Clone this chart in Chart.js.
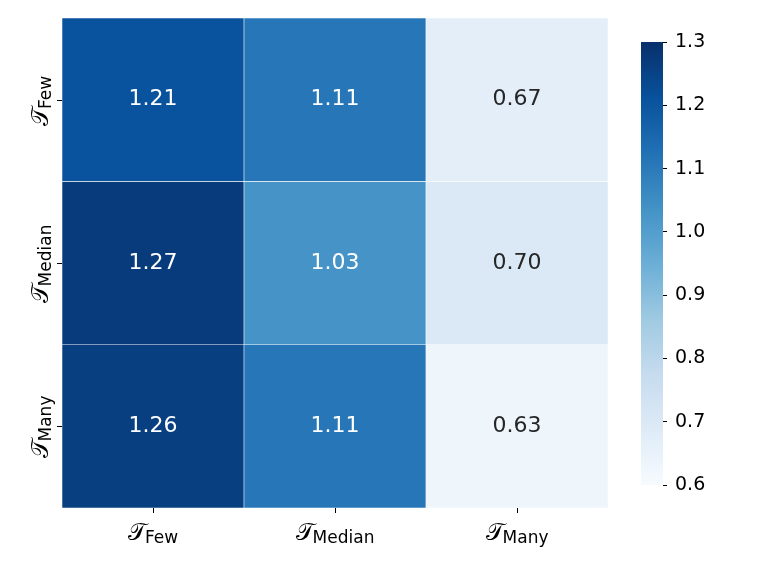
<!DOCTYPE html>
<html>
<head>
<meta charset="utf-8">
<script src="https://cdn.jsdelivr.net/npm/chart.js@4.4.1/dist/chart.umd.min.js"></script>
<style>
  html, body { margin: 0; padding: 0; background: #fff; }
  #wrap { position: relative; width: 761px; height: 571px; }
  #heat { position: absolute; left: 0; top: 0; }
  #cbar { position: absolute; left: 620px; top: 0; }
</style>
</head>
<body>
<div id="wrap">
  <canvas id="heat" width="620" height="571"></canvas>
  <canvas id="cbar" width="141" height="571"></canvas>
</div>
<script>
// categories (columns and rows share the same names)
const colNames = ["Few", "Median", "Many"];
const rowNames = ["Few", "Median", "Many"];

// cell values, one array per row (top to bottom)
const rowFew = [1.21, 1.11, 0.67];
const rowMedian = [1.27, 1.03, 0.70];
const rowMany = [1.26, 1.11, 0.63];
const rows = [rowFew, rowMedian, rowMany];

// colour bar range and ticks
const vmin = 0.6, vmax = 1.3;
const cbarTicks = [0.6, 0.7, 0.8, 0.9, 1.0, 1.1, 1.2, 1.3];

// matplotlib "Blues"
const blues = ["#f7fbff", "#deebf7", "#c6dbef", "#9ecae1", "#6baed6",
               "#4292c6", "#2171b5", "#08519c", "#08306b"];

function hex2rgb(h) {
    return [parseInt(h.substr(1, 2), 16), parseInt(h.substr(3, 2), 16), parseInt(h.substr(5, 2), 16)];
}

function bluesColor(v) {
    let t = (v - vmin) / (vmax - vmin);
    t = Math.max(0, Math.min(1, t));
    let p = t * (blues.length - 1);
    let i = Math.min(Math.floor(p), blues.length - 2);
    let f = p - i;
    let a = hex2rgb(blues[i]), b = hex2rgb(blues[i + 1]);
    let c = a.map((x, k) => Math.round(x + (b[k] - x) * f));
    return "rgb(" + c.join(",") + ")";
}

function lum(v) {
    let c = bluesColor(v).match(/\d+/g).map(Number).map(x => {
        x = x / 255;
        return x <= 0.03928 ? x / 12.92 : Math.pow((x + 0.055) / 1.055, 2.4);
    });
    return 0.2126 * c[0] + 0.7152 * c[1] + 0.0722 * c[2];
}

const FONT = "'DejaVu Sans', sans-serif";
const SCRIPT_T = "\u{1D4AF}";

// draws T with a subscript, centred at 0 along x, baseline at 0
function drawLabel(ctx, sub) {
    ctx.font = "24px " + FONT;
    let wT = ctx.measureText(SCRIPT_T).width;
    ctx.font = "17px " + FONT;
    let wS = ctx.measureText(sub).width;
    let x0 = -(wT + wS) / 2;
    ctx.fillStyle = "#000";
    ctx.textAlign = "left";
    ctx.textBaseline = "alphabetic";
    ctx.font = "24px " + FONT;
    ctx.fillText(SCRIPT_T, x0, 0);
    ctx.font = "17px " + FONT;
    ctx.fillText(sub, x0 + wT - 1, 3);
}

const heatPlugin = {
    id: "heatText",
    afterDatasetsDraw(chart) {
        const ctx = chart.ctx;
        ctx.save();
        ctx.font = "22px " + FONT;
        ctx.textAlign = "center";
        ctx.textBaseline = "middle";
        chart.data.datasets.forEach((ds, di) => {
            chart.getDatasetMeta(di).data.forEach((bar, i) => {
                const p = bar.getProps(["x", "y", "base"], true);
                const v = ds.values[i];
                ctx.fillStyle = lum(v) > 0.408 ? "#262626" : "#ffffff";
                ctx.fillText(v.toFixed(2), p.x, (p.y + p.base) / 2);
            });
        });
        ctx.restore();
    },
    afterDraw(chart) {
        const ctx = chart.ctx;
        const xs = chart.scales.x, ys = chart.scales.y;
        const area = chart.chartArea;
        ctx.save();
        ctx.strokeStyle = "#000";
        ctx.lineWidth = 1;
        colNames.forEach((name, i) => {
            const px = Math.round(xs.getPixelForValue(i)) + 0.5;
            ctx.beginPath();
            ctx.moveTo(px, area.bottom);
            ctx.lineTo(px, area.bottom + 5);
            ctx.stroke();
            ctx.save();
            ctx.translate(px, area.bottom + 32);
            drawLabel(ctx, name);
            ctx.restore();
        });
        rowNames.forEach((name, i) => {
            const py = Math.round(ys.getPixelForValue(i + 0.5)) + 0.5;
            ctx.beginPath();
            ctx.moveTo(area.left - 5, py);
            ctx.lineTo(area.left, py);
            ctx.stroke();
            ctx.save();
            ctx.translate(area.left - 14, py);
            ctx.rotate(-Math.PI / 2);
            drawLabel(ctx, name);
            ctx.restore();
        });
        ctx.restore();
    }
};

const heatData = {
    labels: colNames,
    datasets: rows.map((vals, r) => ({
        label: rowNames[r],
        data: vals.map(() => 1),
        values: vals,
        backgroundColor: vals.map(bluesColor),
        borderColor: "#ffffff",
        borderWidth: 0.6,
        borderSkipped: false,
        barPercentage: 1,
        categoryPercentage: 1
    }))
};

new Chart(document.getElementById("heat"), {
    type: "bar",
    data: heatData,
    options: {
        responsive: false,
        animation: false,
        events: [],
        layout: { padding: { left: 62, top: 18, right: 12, bottom: 63 } },
        plugins: { legend: { display: false }, tooltip: { enabled: false } },
        scales: {
            x: { display: false, stacked: true },
            y: { display: false, stacked: true, reverse: true, min: 0, max: 3 }
        }
    },
    plugins: [heatPlugin]
});

// colour bar
new Chart(document.getElementById("cbar"), {
    type: "bar",
    data: {
        labels: [""],
        datasets: [{
            data: [[vmin, vmax]],
            barPercentage: 1,
            categoryPercentage: 1,
            borderWidth: 0,
            backgroundColor: function(c) {
                const area = c.chart.chartArea;
                if (!area) return blues[4];
                const y = c.chart.scales.y;
                const g = c.chart.ctx.createLinearGradient(0, y.getPixelForValue(vmin), 0, y.getPixelForValue(vmax));
                blues.forEach((col, i) => g.addColorStop(i / (blues.length - 1), col));
                return g;
            }
        }]
    },
    options: {
        responsive: false,
        animation: false,
        events: [],
        layout: { padding: { left: 21, top: 42, right: 48, bottom: 86 } },
        plugins: { legend: { display: false }, tooltip: { enabled: false } },
        scales: {
            x: { display: false },
            y: {
                position: "right",
                min: vmin,
                max: vmax,
                afterBuildTicks: (s) => { s.ticks = cbarTicks.map(v => ({ value: v })); },
                afterFit: (s) => { s.width = 50; },
                border: { display: false },
                grid: { drawOnChartArea: false, drawTicks: true, tickLength: 4, color: "#000", lineWidth: 1 },
                ticks: {
                    color: "#000",
                    padding: 8,
                    font: { family: FONT, size: 19 },
                    callback: (v) => v.toFixed(1)
                }
            }
        }
    }
});
</script>
</body>
</html>
